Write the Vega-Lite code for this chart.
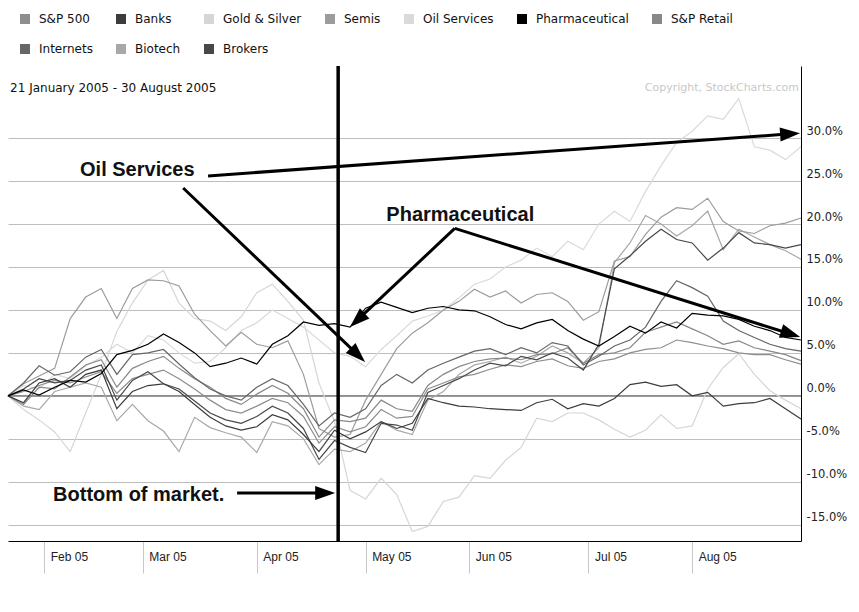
{
  "$schema": "https://vega.github.io/schema/vega-lite/v6.json",
  "width": 793,
  "height": 475,
  "autosize": "none",
  "padding": {"left": 8, "top": 66, "right": 58, "bottom": 71},
  "background": "#ffffff",
  "config": {"view": {"stroke": null}},
  "datasets": {
    "perf": [
      {"t":0,"Pharmaceutical":0,"Oil Services":0,"Gold & Silver":0,"Semis":0,"Banks":0,"S&P 500":0,"S&P Retail":0,"Internets":0,"Biotech":0,"Brokers":0},
      {"t":3,"Pharmaceutical":0.7,"Oil Services":1.2,"Gold & Silver":-1.6,"Semis":1.4,"Banks":-0.8,"S&P 500":0.5,"S&P Retail":-1.0,"Internets":1.5,"Biotech":-1.2,"Brokers":0.8},
      {"t":6,"Pharmaceutical":0.1,"Oil Services":0.8,"Gold & Silver":-2.8,"Semis":2.3,"Banks":1.5,"S&P 500":1.2,"S&P Retail":1.0,"Internets":3.5,"Biotech":-1.6,"Brokers":2.0},
      {"t":9,"Pharmaceutical":1.0,"Oil Services":2.5,"Gold & Silver":-4.2,"Semis":3.2,"Banks":2.0,"S&P 500":1.8,"S&P Retail":0.8,"Internets":2.4,"Biotech":0.5,"Brokers":1.5},
      {"t":12,"Pharmaceutical":1.8,"Oil Services":2.0,"Gold & Silver":-6.5,"Semis":9.0,"Banks":1.0,"S&P 500":1.5,"S&P Retail":2.2,"Internets":2.8,"Biotech":1.0,"Brokers":1.8},
      {"t":15,"Pharmaceutical":1.6,"Oil Services":3.5,"Gold & Silver":-2.0,"Semis":11.5,"Banks":2.5,"S&P 500":2.2,"S&P Retail":3.6,"Internets":4.5,"Biotech":1.5,"Brokers":3.0},
      {"t":18,"Pharmaceutical":2.6,"Oil Services":4.5,"Gold & Silver":2.5,"Semis":12.5,"Banks":3.0,"S&P 500":2.8,"S&P Retail":4.2,"Internets":5.4,"Biotech":1.0,"Brokers":3.6},
      {"t":21,"Pharmaceutical":4.8,"Oil Services":6.0,"Gold & Silver":7.5,"Semis":9.0,"Banks":-1.5,"S&P 500":0.3,"S&P Retail":1.0,"Internets":2.5,"Biotech":-2.9,"Brokers":-0.5},
      {"t":24,"Pharmaceutical":5.3,"Oil Services":5.0,"Gold & Silver":10.8,"Semis":12.5,"Banks":0.5,"S&P 500":2.0,"S&P Retail":3.2,"Internets":4.8,"Biotech":-1.0,"Brokers":1.8},
      {"t":27,"Pharmaceutical":6.0,"Oil Services":7.0,"Gold & Silver":13.5,"Semis":13.5,"Banks":1.2,"S&P 500":2.5,"S&P Retail":4.0,"Internets":5.0,"Biotech":-2.9,"Brokers":2.8},
      {"t":30,"Pharmaceutical":7.2,"Oil Services":6.5,"Gold & Silver":14.6,"Semis":13.4,"Banks":1.4,"S&P 500":3.0,"S&P Retail":4.6,"Internets":5.4,"Biotech":-4.1,"Brokers":1.4},
      {"t":33,"Pharmaceutical":6.2,"Oil Services":5.0,"Gold & Silver":10.8,"Semis":12.8,"Banks":0.5,"S&P 500":2.0,"S&P Retail":3.2,"Internets":3.7,"Biotech":-6.5,"Brokers":0.8},
      {"t":36,"Pharmaceutical":5.0,"Oil Services":3.8,"Gold & Silver":9.0,"Semis":9.5,"Banks":-1.0,"S&P 500":0.8,"S&P Retail":2.0,"Internets":2.1,"Biotech":-2.5,"Brokers":-0.6},
      {"t":39,"Pharmaceutical":3.4,"Oil Services":4.0,"Gold & Silver":8.7,"Semis":7.6,"Banks":-2.5,"S&P 500":-0.5,"S&P Retail":1.0,"Internets":0.8,"Biotech":-3.7,"Brokers":-2.0},
      {"t":42,"Pharmaceutical":3.8,"Oil Services":5.6,"Gold & Silver":7.6,"Semis":5.8,"Banks":-3.5,"S&P 500":-1.6,"S&P Retail":-0.3,"Internets":0.0,"Biotech":-4.3,"Brokers":-2.8},
      {"t":45,"Pharmaceutical":4.4,"Oil Services":7.6,"Gold & Silver":9.2,"Semis":7.4,"Banks":-4.0,"S&P 500":-2.0,"S&P Retail":-1.0,"Internets":-0.5,"Biotech":-4.8,"Brokers":-3.2},
      {"t":48,"Pharmaceutical":3.7,"Oil Services":8.5,"Gold & Silver":12.0,"Semis":6.0,"Banks":-3.6,"S&P 500":-1.2,"S&P Retail":0.2,"Internets":1.0,"Biotech":-6.6,"Brokers":-2.4},
      {"t":51,"Pharmaceutical":6.0,"Oil Services":10.0,"Gold & Silver":13.0,"Semis":5.6,"Banks":-2.2,"S&P 500":-0.3,"S&P Retail":1.2,"Internets":2.0,"Biotech":-3.0,"Brokers":-1.2},
      {"t":54,"Pharmaceutical":7.0,"Oil Services":9.0,"Gold & Silver":11.0,"Semis":6.4,"Banks":-2.8,"S&P 500":-0.8,"S&P Retail":0.3,"Internets":1.2,"Biotech":-3.5,"Brokers":-2.0},
      {"t":57,"Pharmaceutical":8.6,"Oil Services":8.0,"Gold & Silver":8.8,"Semis":2.5,"Banks":-4.5,"S&P 500":-2.4,"S&P Retail":-1.5,"Internets":-1.0,"Biotech":-5.0,"Brokers":-3.8},
      {"t":60,"Pharmaceutical":8.2,"Oil Services":6.5,"Gold & Silver":1.5,"Semis":-3.8,"Banks":-6.5,"S&P 500":-5.5,"S&P Retail":-4.8,"Internets":-3.5,"Biotech":-8.0,"Brokers":-7.4},
      {"t":63,"Pharmaceutical":8.4,"Oil Services":5.0,"Gold & Silver":-3.0,"Semis":-4.8,"Banks":-4.0,"S&P 500":-3.6,"S&P Retail":-2.8,"Internets":-2.0,"Biotech":-6.2,"Brokers":-5.2},
      {"t":66,"Pharmaceutical":8.0,"Oil Services":4.6,"Gold & Silver":-11.0,"Semis":-4.5,"Banks":-5.0,"S&P 500":-4.2,"S&P Retail":-3.0,"Internets":-2.5,"Biotech":-6.5,"Brokers":-6.0},
      {"t":69,"Pharmaceutical":10.2,"Oil Services":3.4,"Gold & Silver":-12.0,"Semis":-0.5,"Banks":-4.2,"S&P 500":-3.6,"S&P Retail":-2.6,"Internets":-1.5,"Biotech":-5.5,"Brokers":-6.6},
      {"t":72,"Pharmaceutical":10.9,"Oil Services":5.4,"Gold & Silver":-9.6,"Semis":2.5,"Banks":-3.0,"S&P 500":-1.6,"S&P Retail":-0.5,"Internets":1.2,"Biotech":-3.0,"Brokers":-3.2},
      {"t":75,"Pharmaceutical":10.3,"Oil Services":7.0,"Gold & Silver":-11.5,"Semis":5.5,"Banks":-3.8,"S&P 500":-2.6,"S&P Retail":-1.5,"Internets":2.5,"Biotech":-4.0,"Brokers":-3.4},
      {"t":78,"Pharmaceutical":9.7,"Oil Services":8.7,"Gold & Silver":-15.8,"Semis":7.3,"Banks":-3.2,"S&P 500":-2.4,"S&P Retail":-1.8,"Internets":1.5,"Biotech":-4.5,"Brokers":-4.0},
      {"t":81,"Pharmaceutical":10.2,"Oil Services":9.3,"Gold & Silver":-15.2,"Semis":8.5,"Banks":-0.3,"S&P 500":0.8,"S&P Retail":1.2,"Internets":3.0,"Biotech":-0.5,"Brokers":0.4},
      {"t":84,"Pharmaceutical":10.4,"Oil Services":10.0,"Gold & Silver":-12.3,"Semis":10.0,"Banks":-0.8,"S&P 500":1.5,"S&P Retail":2.5,"Internets":3.8,"Biotech":0.5,"Brokers":1.2},
      {"t":87,"Pharmaceutical":10.0,"Oil Services":11.4,"Gold & Silver":-11.8,"Semis":11.0,"Banks":-1.2,"S&P 500":2.2,"S&P Retail":3.4,"Internets":4.5,"Biotech":2.5,"Brokers":2.0},
      {"t":90,"Pharmaceutical":9.9,"Oil Services":13.0,"Gold & Silver":-9.3,"Semis":12.4,"Banks":-1.3,"S&P 500":2.5,"S&P Retail":4.0,"Internets":5.2,"Biotech":3.6,"Brokers":3.0},
      {"t":93,"Pharmaceutical":9.2,"Oil Services":13.6,"Gold & Silver":-9.6,"Semis":11.5,"Banks":-1.5,"S&P 500":3.1,"S&P Retail":4.3,"Internets":5.5,"Biotech":4.0,"Brokers":3.8},
      {"t":96,"Pharmaceutical":8.3,"Oil Services":15.0,"Gold & Silver":-7.5,"Semis":12.2,"Banks":-1.6,"S&P 500":3.6,"S&P Retail":4.4,"Internets":4.8,"Biotech":4.5,"Brokers":3.5},
      {"t":99,"Pharmaceutical":7.8,"Oil Services":15.8,"Gold & Silver":-6.0,"Semis":10.8,"Banks":-1.7,"S&P 500":3.4,"S&P Retail":4.2,"Internets":5.6,"Biotech":3.8,"Brokers":4.6},
      {"t":102,"Pharmaceutical":8.5,"Oil Services":17.2,"Gold & Silver":-2.6,"Semis":11.8,"Banks":-0.8,"S&P 500":4.0,"S&P Retail":4.8,"Internets":5.0,"Biotech":4.6,"Brokers":4.2},
      {"t":105,"Pharmaceutical":8.9,"Oil Services":16.2,"Gold & Silver":-3.0,"Semis":12.0,"Banks":-0.4,"S&P 500":4.3,"S&P Retail":4.9,"Internets":6.2,"Biotech":5.8,"Brokers":5.0},
      {"t":108,"Pharmaceutical":7.6,"Oil Services":18.0,"Gold & Silver":-2.0,"Semis":11.0,"Banks":-1.5,"S&P 500":3.5,"S&P Retail":5.6,"Internets":5.8,"Biotech":5.0,"Brokers":4.4},
      {"t":111,"Pharmaceutical":6.6,"Oil Services":17.0,"Gold & Silver":-2.0,"Semis":8.8,"Banks":-0.9,"S&P 500":3.2,"S&P Retail":3.8,"Internets":3.6,"Biotech":3.8,"Brokers":3.0},
      {"t":114,"Pharmaceutical":5.8,"Oil Services":20.0,"Gold & Silver":-2.8,"Semis":9.8,"Banks":-1.2,"S&P 500":4.0,"S&P Retail":4.8,"Internets":4.6,"Biotech":5.6,"Brokers":6.0},
      {"t":117,"Pharmaceutical":6.9,"Oil Services":21.5,"Gold & Silver":-3.9,"Semis":15.7,"Banks":-0.3,"S&P 500":4.3,"S&P Retail":5.0,"Internets":5.8,"Biotech":15.5,"Brokers":14.8},
      {"t":120,"Pharmaceutical":8.1,"Oil Services":20.3,"Gold & Silver":-4.8,"Semis":16.2,"Banks":1.3,"S&P 500":5.0,"S&P Retail":5.6,"Internets":6.5,"Biotech":17.8,"Brokers":16.3},
      {"t":123,"Pharmaceutical":7.3,"Oil Services":23.8,"Gold & Silver":-4.0,"Semis":18.8,"Banks":1.6,"S&P 500":5.4,"S&P Retail":7.4,"Internets":8.0,"Biotech":21.0,"Brokers":18.0},
      {"t":126,"Pharmaceutical":8.6,"Oil Services":26.8,"Gold & Silver":-2.2,"Semis":20.8,"Banks":1.1,"S&P 500":5.6,"S&P Retail":8.0,"Internets":11.0,"Biotech":20.0,"Brokers":19.4},
      {"t":129,"Pharmaceutical":7.9,"Oil Services":29.5,"Gold & Silver":-3.8,"Semis":21.9,"Banks":1.3,"S&P 500":6.5,"S&P Retail":8.6,"Internets":13.4,"Biotech":18.6,"Brokers":18.2},
      {"t":132,"Pharmaceutical":9.6,"Oil Services":30.8,"Gold & Silver":-3.5,"Semis":21.7,"Banks":0.0,"S&P 500":6.2,"S&P Retail":7.8,"Internets":12.6,"Biotech":19.8,"Brokers":17.8},
      {"t":135,"Pharmaceutical":9.4,"Oil Services":32.6,"Gold & Silver":0.8,"Semis":23.0,"Banks":0.4,"S&P 500":5.8,"S&P Retail":7.0,"Internets":11.6,"Biotech":21.5,"Brokers":15.8},
      {"t":138,"Pharmaceutical":9.3,"Oil Services":32.2,"Gold & Silver":3.3,"Semis":20.3,"Banks":-1.2,"S&P 500":5.5,"S&P Retail":6.0,"Internets":8.7,"Biotech":17.0,"Brokers":17.2},
      {"t":141,"Pharmaceutical":8.9,"Oil Services":34.6,"Gold & Silver":4.9,"Semis":19.2,"Banks":-0.9,"S&P 500":5.0,"S&P Retail":6.4,"Internets":7.6,"Biotech":19.4,"Brokers":19.0},
      {"t":144,"Pharmaceutical":8.1,"Oil Services":29.0,"Gold & Silver":2.5,"Semis":18.9,"Banks":-0.8,"S&P 500":4.8,"S&P Retail":5.6,"Internets":6.8,"Biotech":18.5,"Brokers":17.8},
      {"t":147,"Pharmaceutical":7.6,"Oil Services":28.6,"Gold & Silver":0.6,"Semis":19.8,"Banks":-0.3,"S&P 500":4.8,"S&P Retail":5.2,"Internets":6.0,"Biotech":17.6,"Brokers":17.6},
      {"t":150,"Pharmaceutical":6.8,"Oil Services":27.5,"Gold & Silver":-0.5,"Semis":20.1,"Banks":-1.5,"S&P 500":4.2,"S&P Retail":4.8,"Internets":5.5,"Biotech":16.9,"Brokers":17.2},
      {"t":153,"Pharmaceutical":6.5,"Oil Services":29.0,"Gold & Silver":-1.5,"Semis":20.7,"Banks":-2.7,"S&P 500":3.7,"S&P Retail":4.1,"Internets":5.2,"Biotech":15.9,"Brokers":17.6}
    ],
    "arrows": [
      {"t":38.6,"v":25.6,"t2":150.9,"v2":30.5},
      {"t":33.8,"v":24.2,"t2":67.5,"v2":4.76},
      {"t":86.2,"v":19.5,"t2":67.4,"v2":8.81},
      {"t":86.2,"v":19.5,"t2":151.0,"v2":7.2},
      {"t":44.2,"v":-11.3,"t2":61.2,"v2":-11.3}
    ],
    "heads": [
      {"t":150.9,"v":30.5,"a":356},
      {"t":67.5,"v":4.76,"a":44},
      {"t":67.4,"v":8.81,"a":137},
      {"t":151.0,"v":7.2,"a":17.5},
      {"t":61.2,"v":-11.3,"a":0}
    ],
    "notes": [
      {"label":"Oil Services","t":13.9,"v":26.3},
      {"label":"Pharmaceutical","t":73.0,"v":21.1},
      {"label":"Bottom of market.","t":8.7,"v":-11.5}
    ]
  },
  "layer": [
    {
      "data": {"values": [{"v": 0}]},
      "mark": {"type": "rule", "color": "#555555", "strokeWidth": 1},
      "encoding": {
        "y": {"field": "v", "type": "quantitative", "title": null, "scale": {"domain": [-16.9, 38.4], "nice": false, "zero": false}}
      }
    },
    {
      "data": {"name": "perf"},
      "transform": [
        {"fold": ["Gold & Silver","Oil Services","Biotech","Semis","S&P Retail","S&P 500","Internets","Brokers","Banks","Pharmaceutical"], "as": ["key", "v"]}
      ],
      "mark": {"type": "line", "strokeWidth": 1.2, "interpolate": "linear"},
      "encoding": {
        "x": {
          "field": "t", "type": "quantitative", "title": null,
          "scale": {"domain": [0, 153], "nice": false, "zero": false},
          "axis": {
            "values": [7, 26, 48, 69, 89, 112, 132],
            "labelExpr": "datum.value==7?'Feb 05':datum.value==26?'Mar 05':datum.value==48?'Apr 05':datum.value==69?'May 05':datum.value==89?'Jun 05':datum.value==112?'Jul 05':'Aug 05'",
            "grid": false, "domainColor": "#000000", "domainWidth": 1,
            "tickColor": "#c8c8c8", "tickSize": 32, "tickWidth": 1,
            "labelAlign": "left", "labelBaseline": "top", "labelOffset": 6, "labelPadding": -22,
            "labelFont": "Liberation Sans", "labelFontSize": 12, "labelColor": "#222222",
            "labelOverlap": false, "labelFlush": false
          }
        },
        "y": {
          "field": "v", "type": "quantitative", "title": null,
          "scale": {"domain": [-16.9, 38.4], "nice": false, "zero": false},
          "axis": {
            "orient": "right",
            "values": [-15, -10, -5, 0, 5, 10, 15, 20, 25, 30],
            "labelExpr": "(datum.value<0?'-':'')+format(abs(datum.value),'.1f')+'%'",
            "grid": true, "gridColor": "#bdbdbd", "gridWidth": 1,
            "domainColor": "#000000", "domainWidth": 1, "ticks": false,
            "labelPadding": 5, "labelBaseline": "alphabetic", "labelOffset": -4,
            "labelFont": "DejaVu Sans", "labelFontSize": 11.5, "labelColor": "#222222",
            "labelOverlap": false, "labelFlush": false
          }
        },
        "color": {
          "field": "key", "type": "nominal",
          "scale": {
            "domain": ["S&P 500","Banks","Gold & Silver","Semis","Oil Services","Pharmaceutical","S&P Retail","Internets","Biotech","Brokers"],
            "range": ["#8e8e8e","#3c3c3c","#d6d6d6","#9c9c9c","#dadada","#000000","#888888","#666666","#a8a8a8","#484848"]
          },
          "legend": {
            "title": null, "orient": "none", "legendX": 11, "legendY": -53,
            "direction": "horizontal", "columns": 7, "gridAlign": "none",
            "columnPadding": 22, "rowPadding": 18,
            "symbolType": "square", "symbolSize": 100, "symbolStrokeWidth": 0,
            "labelFont": "DejaVu Sans", "labelFontSize": 12, "labelColor": "#111111", "labelOffset": 8,
            "encode": {"symbols": {"update": {"fill": {"scale": "color", "field": "value"}, "stroke": {"value": "transparent"}, "opacity": {"value": 1}}}}
          }
        }
      }
    },
    {
      "data": {"values": [{"t": 63.7}]},
      "mark": {"type": "rule", "color": "#000000", "strokeWidth": 3.5},
      "encoding": {
        "x": {"field": "t", "type": "quantitative", "title": null, "scale": {"domain": [0, 153], "nice": false, "zero": false}}
      }
    },
    {
      "data": {"name": "arrows"},
      "mark": {"type": "rule", "color": "#000000", "strokeWidth": 3},
      "encoding": {
        "x": {"field": "t", "type": "quantitative", "title": null, "scale": {"domain": [0, 153], "nice": false, "zero": false}},
        "y": {"field": "v", "type": "quantitative", "title": null, "scale": {"domain": [-16.9, 38.4], "nice": false, "zero": false}},
        "x2": {"field": "t2"},
        "y2": {"field": "v2"}
      }
    },
    {
      "data": {"name": "heads"},
      "mark": {"type": "point", "shape": "M1,0L-1,-0.7L-1,0.7Z", "filled": true, "color": "#000000", "opacity": 1, "size": 400, "strokeWidth": 0},
      "encoding": {
        "x": {"field": "t", "type": "quantitative", "title": null, "scale": {"domain": [0, 153], "nice": false, "zero": false}},
        "y": {"field": "v", "type": "quantitative", "title": null, "scale": {"domain": [-16.9, 38.4], "nice": false, "zero": false}},
        "angle": {"field": "a", "type": "quantitative", "scale": null}
      }
    },
    {
      "data": {"name": "notes"},
      "mark": {"type": "text", "align": "left", "baseline": "middle", "font": "Liberation Sans", "fontSize": 20, "fontWeight": "bold", "color": "#111111"},
      "encoding": {
        "x": {"field": "t", "type": "quantitative", "title": null, "scale": {"domain": [0, 153], "nice": false, "zero": false}},
        "y": {"field": "v", "type": "quantitative", "title": null, "scale": {"domain": [-16.9, 38.4], "nice": false, "zero": false}},
        "text": {"field": "label"}
      }
    },
    {
      "data": {"values": [{"label": "21 January 2005 - 30 August 2005", "t": 0.4, "v": 35.8}]},
      "mark": {"type": "text", "align": "left", "baseline": "middle", "font": "DejaVu Sans", "fontSize": 12, "color": "#111111"},
      "encoding": {
        "x": {"field": "t", "type": "quantitative", "title": null, "scale": {"domain": [0, 153], "nice": false, "zero": false}},
        "y": {"field": "v", "type": "quantitative", "title": null, "scale": {"domain": [-16.9, 38.4], "nice": false, "zero": false}},
        "text": {"field": "label"}
      }
    },
    {
      "data": {"values": [{"label": "Copyright, StockCharts.com", "t": 152.6, "v": 35.8}]},
      "mark": {"type": "text", "align": "right", "baseline": "middle", "font": "DejaVu Sans", "fontSize": 11, "color": "#c8c8c8"},
      "encoding": {
        "x": {"field": "t", "type": "quantitative", "title": null, "scale": {"domain": [0, 153], "nice": false, "zero": false}},
        "y": {"field": "v", "type": "quantitative", "title": null, "scale": {"domain": [-16.9, 38.4], "nice": false, "zero": false}},
        "text": {"field": "label"}
      }
    }
  ]
}
